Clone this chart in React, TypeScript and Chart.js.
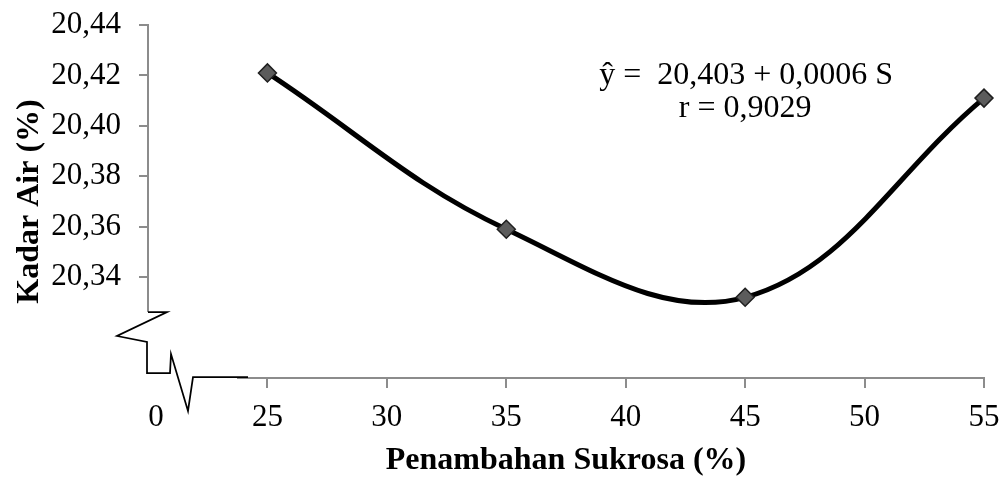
import { useEffect, useRef } from 'react';
import { Chart, registerables } from 'chart.js';

Chart.register(...registerables);

// Sucrose addition (%) and measured water content (%)
const sukrosa = [25, 35, 45, 55];
const kadarAir = [20.421, 20.359, 20.332, 20.411];

// Axis ticks (hidden labels sit below the axis break)
const xTickValues = [20, 25, 30, 35, 40, 45, 50, 55];
const xTickLabels = ['', '25', '30', '35', '40', '45', '50', '55'];
const yTickValues = [20.3, 20.32, 20.34, 20.36, 20.38, 20.4, 20.42, 20.44];
const yTickLabels = ['', '', '20,34', '20,36', '20,38', '20,40', '20,42', '20,44'];

const xBreakLabel = '0';
const xTitle = 'Penambahan Sukrosa (%)';
const yTitle = 'Kadar Air (%)';
const equationLines = ['ŷ =  20,403 + 0,0006 S', 'r = 0,9029'];

const FONT = "'Liberation Serif', 'Times New Roman', serif";
const TICK_SIZE = 31;
const TITLE_SIZE = 32;
const AXIS_COLOR = '#8c8c8c';
const X_TICK_LEN = 10;
// distance from the x axis to the middle of its tick labels
const X_LABEL_OFFSET = 40;

// Axis lines with the zigzag break marks, the "0" label and the regression note
const axisBreakPlugin = {
  id: 'axisBreak',
  afterDraw(chart: any) {
    const { ctx, chartArea, scales } = chart;
    const x = scales.x;
    const y = scales.y;
    const ox = x.getPixelForValue(xTickValues[0]);
    const oy = y.getPixelForValue(yTickValues[0]);
    const top = y.getPixelForValue(yTickValues[yTickValues.length - 1]);
    const right = x.getPixelForValue(xTickValues[xTickValues.length - 1]);

    ctx.save();
    ctx.lineCap = 'butt';
    ctx.strokeStyle = AXIS_COLOR;
    ctx.lineWidth = 2;
    ctx.beginPath();
    ctx.moveTo(ox, top - 1);
    ctx.lineTo(ox, oy - 66);
    ctx.moveTo(ox + 89, oy);
    ctx.lineTo(right + 1, oy);
    ctx.stroke();

    // break marks
    ctx.strokeStyle = '#000';
    ctx.lineWidth = 1.75;
    ctx.lineJoin = 'miter';
    const pts = [
      [0, -66], [19, -66], [-31, -42], [-1, -36], [-1, -5],
      [22, -5], [23, -24], [40, 33], [45, -1], [100, -1],
    ];
    ctx.beginPath();
    pts.forEach(([dx, dy], i) => {
      if (i === 0) ctx.moveTo(ox + dx, oy + dy);
      else ctx.lineTo(ox + dx, oy + dy);
    });
    ctx.stroke();

    // origin label left of the break
    ctx.fillStyle = '#000';
    ctx.font = `${TICK_SIZE}px ${FONT}`;
    ctx.textAlign = 'center';
    ctx.textBaseline = 'middle';
    ctx.fillText(xBreakLabel, ox + 8, oy + X_LABEL_OFFSET);

    // regression equation
    ctx.font = `${TITLE_SIZE}px ${FONT}`;
    ctx.textBaseline = 'alphabetic';
    const ex = x.getPixelForValue(45);
    ctx.fillText(equationLines[0], ex + 1, chartArea.top + 59);
    ctx.fillText(equationLines[1], ex, chartArea.top + 92);
    ctx.restore();
  },
};

export default function App() {
  const canvasRef = useRef<HTMLCanvasElement | null>(null);

  useEffect(() => {
    document.body.style.margin = '0';
    const canvas = canvasRef.current;
    if (!canvas) return;

    const chart = new Chart(canvas, {
      type: 'line',
      data: {
        datasets: [
          {
            data: sukrosa.map((s, i) => ({ x: s, y: kadarAir[i] })),
            borderColor: '#000',
            borderWidth: 5,
            tension: 0.38,
            fill: false,
            pointStyle: 'rectRot',
            pointRadius: 9,
            pointBackgroundColor: '#5c5c5c',
            pointBorderColor: '#1f1f1f',
            pointBorderWidth: 1.5,
            clip: false as any,
          },
        ],
      },
      options: {
        responsive: false,
        animation: false,
        devicePixelRatio: 1,
        layout: { padding: { top: 25, right: 22, left: 0, bottom: 0 } },
        plugins: {
          legend: { display: false },
          tooltip: { enabled: false },
        },
        scales: {
          x: {
            type: 'linear',
            position: 'bottom',
            min: 20,
            max: 55,
            afterBuildTicks: (scale: any) => {
              scale.ticks = xTickValues.map((v) => ({ value: v }));
            },
            afterFit: (scale: any) => {
              scale.height = 99;
            },
            border: { display: false },
            grid: {
              drawOnChartArea: false,
              drawTicks: true,
              tickLength: X_TICK_LEN,
              lineWidth: 2,
              color: (c: any) => (xTickLabels[c.index] ? AXIS_COLOR : 'rgba(0,0,0,0)'),
            },
            ticks: {
              autoSkip: false,
              maxRotation: 0,
              padding: 0,
              color: '#000',
              font: {
                family: FONT,
                size: TICK_SIZE,
                lineHeight: (2 * (X_LABEL_OFFSET - X_TICK_LEN)) / TICK_SIZE,
              },
              callback: (_v: any, i: number) => xTickLabels[i],
            },
            title: {
              display: true,
              text: xTitle,
              color: '#000',
              font: { family: FONT, size: TITLE_SIZE, weight: 'bold', lineHeight: 1 },
              padding: { top: 0, bottom: 0 },
            },
          },
          y: {
            type: 'linear',
            min: 20.3,
            max: 20.44,
            afterBuildTicks: (scale: any) => {
              scale.ticks = yTickValues.map((v) => ({ value: v }));
            },
            afterFit: (scale: any) => {
              scale.width = 148;
            },
            border: { display: false },
            grid: {
              drawOnChartArea: false,
              drawTicks: true,
              tickLength: 9,
              lineWidth: 2,
              color: (c: any) => (yTickLabels[c.index] ? AXIS_COLOR : 'rgba(0,0,0,0)'),
            },
            ticks: {
              autoSkip: false,
              padding: 18,
              color: '#000',
              font: { family: FONT, size: TICK_SIZE, lineHeight: 0.4 },
              callback: (_v: any, i: number) => yTickLabels[i],
            },
            title: {
              display: true,
              text: yTitle,
              color: '#000',
              font: { family: FONT, size: TITLE_SIZE, weight: 'bold', lineHeight: 1 },
              padding: { top: 14, bottom: 0 },
            },
          },
        },
      } as any,
      plugins: [axisBreakPlugin],
    });

    return () => chart.destroy();
  }, []);

  return (
    <div style={{ position: 'fixed', left: 0, top: 0, width: 1006, height: 477, background: '#fff' }}>
      <canvas ref={canvasRef} width={1006} height={477} style={{ display: 'block' }} />
    </div>
  );
}
